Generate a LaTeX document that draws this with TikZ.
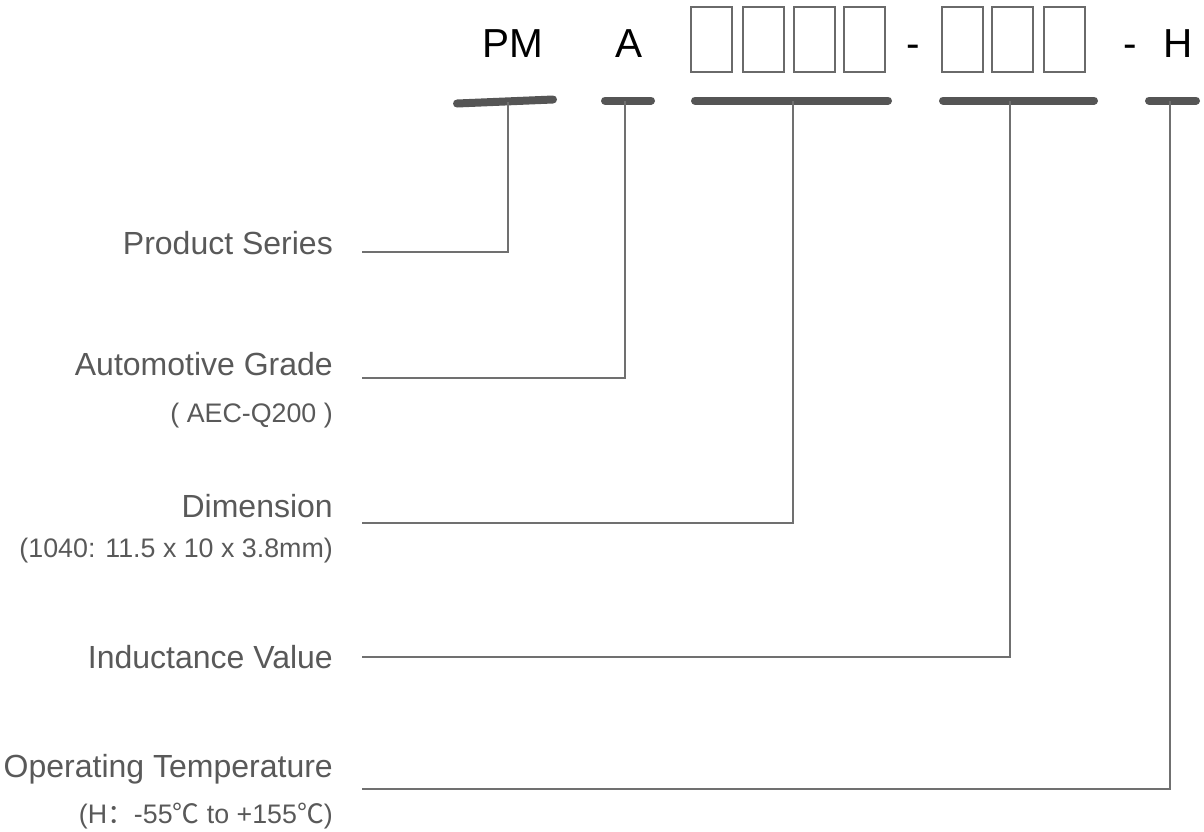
\documentclass[tikz,border=0pt]{standalone}
\usepackage{fontspec}
\setmainfont{Liberation Sans}
\newfontfamily\cjk{Noto Sans CJK SC}
\definecolor{txt}{HTML}{595959}
\definecolor{barc}{HTML}{555555}
\definecolor{lnc}{HTML}{707070}
\definecolor{bxc}{HTML}{6A6A6A}
\begin{document}
\begin{tikzpicture}[x=1pt,y=-1pt,
 lab/.style={anchor=base east, inner sep=0pt, text=txt, font=\fontsize{32}{32}\selectfont},
 sub/.style={anchor=base east, inner sep=0pt, text=txt, font=\fontsize{26.8}{26.8}\selectfont},
 code/.style={anchor=base, inner sep=0pt, font=\fontsize{40.5}{40.5}\selectfont},
 digit/.style={draw=bxc, line width=2pt, minimum width=41pt, minimum height=65pt, inner sep=0pt},
 barline/.style={draw=barc, line width=8pt, line cap=round},
 conn/.style={draw=lnc, line width=1.6pt}]
\useasboundingbox (0,0) rectangle (1204,831);

% code line
\node[code] (pm) at (513,57) {PM};
\node[code] (a) at (629,57) {A};
\node[digit] (d1) at (711,39) {};
\node[digit] (d2) at (763,39) {};
\node[digit] (d3) at (814.5,39) {};
\node[digit] (d4) at (864.5,39) {};
\node[code] (dash1) at (913,57) {-};
\node[digit] (e1) at (962.5,39) {};
\node[digit] (e2) at (1012.5,39) {};
\node[digit] (e3) at (1064.5,39) {};
\node[code] (dash2) at (1130,57) {-};
\node[code] (h) at (1178,57) {H};

% bars
\coordinate (b1l) at (457,103.5);
\coordinate (b1r) at (553,99.5);
\coordinate (b2l) at (605,100.5);
\coordinate (b2r) at (651,100.5);
\coordinate (b3l) at (695,100.5);
\coordinate (b3r) at (888,100.5);
\coordinate (b4l) at (943,100.5);
\coordinate (b4r) at (1094,100.5);
\coordinate (b5l) at (1149,100.5);
\coordinate (b5r) at (1196,100.5);
\draw[barline] (b1l) -- (b1r);
\draw[barline] (b2l) -- (b2r);
\draw[barline] (b3l) -- (b3r);
\draw[barline] (b4l) -- (b4r);
\draw[barline] (b5l) -- (b5r);

% tap points on bars
\coordinate (t1) at (508,101.5);
\coordinate (t2) at (625,101);
\coordinate (t3) at (793,101);
\coordinate (t4) at (1010,101);
\coordinate (t5) at (1170,101);

% labels
\node[lab] (l1) at (333,254) {Product Series};
\node[lab] (l2) at (333,375) {Automotive Grade};
\node[sub] (s2) at (333,422) {( AEC-Q200 )};
\node[lab] (l3) at (333,517) {Dimension};
\node[sub] (s3) at (333,557) {(1040: 11.5 x 10 x 3.8mm)};
\node[lab] (l4) at (333,668) {Inductance Value};
\node[lab] (l5) at (333,777) {Operating Temperature};
\node[sub] (s5) at (333,823) {(H{\cjk ：}-55{\cjk ℃} to +155{\cjk ℃})};

% connector starts
\coordinate (c1) at (362,252);
\coordinate (c2) at (362,378);
\coordinate (c3) at (362,523);
\coordinate (c4) at (362,657);
\coordinate (c5) at (362,789);

\draw[conn] (c1) -| (t1);
\draw[conn] (c2) -| (t2);
\draw[conn] (c3) -| (t3);
\draw[conn] (c4) -| (t4);
\draw[conn] (c5) -| (t5);
\end{tikzpicture}
\end{document}
